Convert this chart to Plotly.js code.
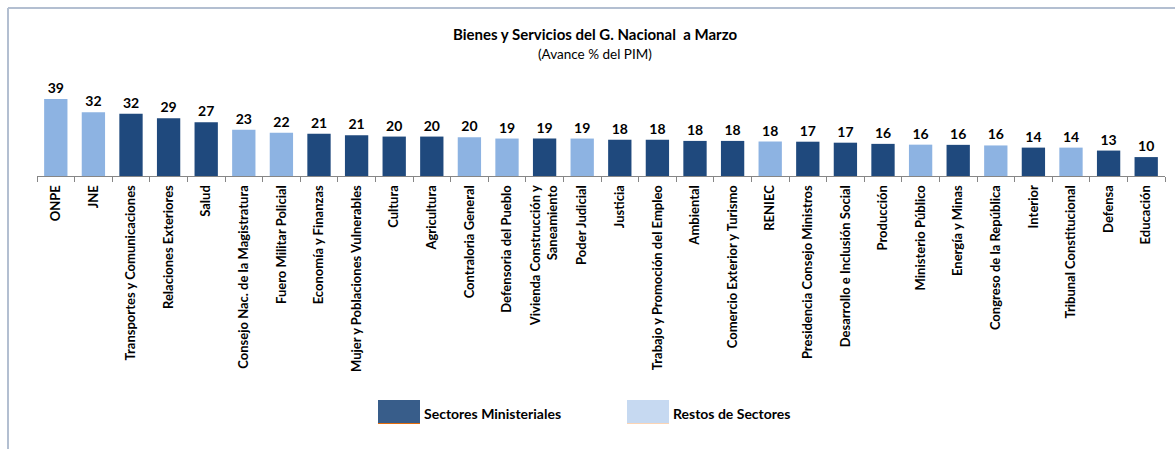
<!DOCTYPE html>
<html>
<head>
<meta charset="utf-8">
<script src="https://cdn.plot.ly/plotly-3.0.1.min.js"></script>
<style>html,body{margin:0;padding:0;background:#fff;}#chart{width:1175px;height:449px;}</style>
</head>
<body>
<div id="chart"></div>
<script>
// Categories (in display order)
const categories = [
  "ONPE","JNE","Transportes y Comunicaciones","Relaciones Exteriores","Salud",
  "Consejo Nac. de la Magistratura","Fuero Militar Policial","Economía y Finanzas",
  "Mujer y Poblaciones Vulnerables","Cultura","Agricultura","Contraloria General",
  "Defensoria del Pueblo","Vivienda Construcción y<br>Saneamiento","Poder Judicial",
  "Justicia","Trabajo y Promoción del Empleo","Ambiental","Comercio Exterior y Turismo",
  "RENIEC","Presidencia Consejo Ministros","Desarrollo e Inclusión Social","Producción",
  "Ministerio Público","Energía y Minas","Congreso de la República","Interior",
  "Tribunal Constitucional","Defensa","Educación"
];
// Avance % del PIM (labels shown rounded)
const values = [
  39.0, 32.4, 31.6, 29.3, 27.3,
  23.4, 22.0, 21.4, 20.7, 20.0,
  20.0, 19.6, 19.0, 19.0, 19.0,
  18.4, 18.4, 17.8, 17.8, 17.5,
  17.4, 16.9, 16.3, 15.9, 15.8,
  15.5, 14.4, 14.4, 12.9, 9.6
];
// M = Sectores Ministeriales, R = Restos de Sectores
const groups = [
  "R","R","M","M","M",
  "R","R","M","M","M",
  "M","R","R","M","R",
  "M","M","M","M","R",
  "M","M","M","R","M",
  "R","M","R","M","M"
];
const legendNames = {M: "Sectores Ministeriales", R: "Restos de Sectores"};

const barColors = {M: "#1f497d", R: "#8db3e2"};
const legendColors = {M: "#385d8a", R: "#c6d9f1"};
const legendEdge = {M: "#e46c0a", R: "#fbd4b4"};

// plot area geometry (pixels)
const L = 37, R = 10, T = 80, B = 273, W = 1175, H = 449;
const PW = W - L - R, PH = H - T - B;
const px = x => (x - L) / PW;
const py = y => (T + PH - y) / PH;

const font = "Lato, 'Open Sans', sans-serif";

const trace = {
  type: "bar",
  x: categories,
  y: values,
  marker: {color: groups.map(g => barColors[g]), line: {width: 0}},
  text: values.map(v => String(Math.round(v))),
  textposition: "outside",
  cliponaxis: false,
  constraintext: "none",
  textfont: {family: font, size: 14, color: "#000", weight: "bold"},
  hoverinfo: "none",
  showlegend: false
};

const shapes = [
  // chart frame (left + top)
  {type: "line", xref: "paper", yref: "paper", x0: px(8), x1: px(8), y0: py(449), y1: py(8), line: {color: "#b3bfd1", width: 2}},
  {type: "line", xref: "paper", yref: "paper", x0: px(8), x1: px(1176), y0: py(8), y1: py(8), line: {color: "#b3bfd1", width: 2}},
];
const annotations = [
  {xref: "paper", yref: "paper", x: px(595), y: py(54), text: "(Avance % del PIM)", showarrow: false,
   xanchor: "center", yanchor: "middle", font: {family: font, size: 13.5, color: "#000"}}
];
// custom legend
const legendItems = [["M", 378], ["R", 627]];
legendItems.forEach(([g, x0]) => {
  shapes.push({type: "rect", xref: "paper", yref: "paper", x0: px(x0), x1: px(x0 + 42), y0: py(423), y1: py(400),
    fillcolor: legendColors[g], line: {width: 0}});
  shapes.push({type: "line", xref: "paper", yref: "paper", x0: px(x0), x1: px(x0 + 42), y0: py(423.5), y1: py(423.5),
    line: {color: legendEdge[g], width: 1}});
  annotations.push({xref: "paper", yref: "paper", x: px(x0 + 44), y: py(413), text: "<b>" + legendNames[g] + "</b>",
    showarrow: false, xanchor: "left", yanchor: "middle", font: {family: font, size: 14, color: "#000"}});
});

const layout = {
  width: W, height: H,
  margin: {l: L, r: R, t: T, b: B, pad: 0},
  paper_bgcolor: "#fff", plot_bgcolor: "#fff",
  title: {text: "<b>Bienes y Servicios del G. Nacional  a Marzo</b>", x: 595 / W, xanchor: "center",
          y: 1 - 35 / H, yanchor: "middle", font: {family: font, size: 15, color: "#000"}},
  bargap: 0.38,
  xaxis: {
    type: "category", categoryorder: "array", categoryarray: categories,
    showline: true, linecolor: "#868686", linewidth: 1,
    ticks: "outside", ticklen: 5, tickcolor: "#868686", tickwidth: 1, tickson: "boundaries",
    ticklabelstandoff: 3,
    tickangle: -90, showgrid: false, zeroline: false, fixedrange: true,
    tickfont: {family: font, size: 13, color: "#000", weight: "bold"}
  },
  yaxis: {visible: false, range: [0, 48.7], fixedrange: true},
  shapes: shapes,
  annotations: annotations,
  hovermode: false
};

Plotly.newPlot("chart", [trace], layout, {displayModeBar: false, staticPlot: true});
</script>
</body>
</html>
